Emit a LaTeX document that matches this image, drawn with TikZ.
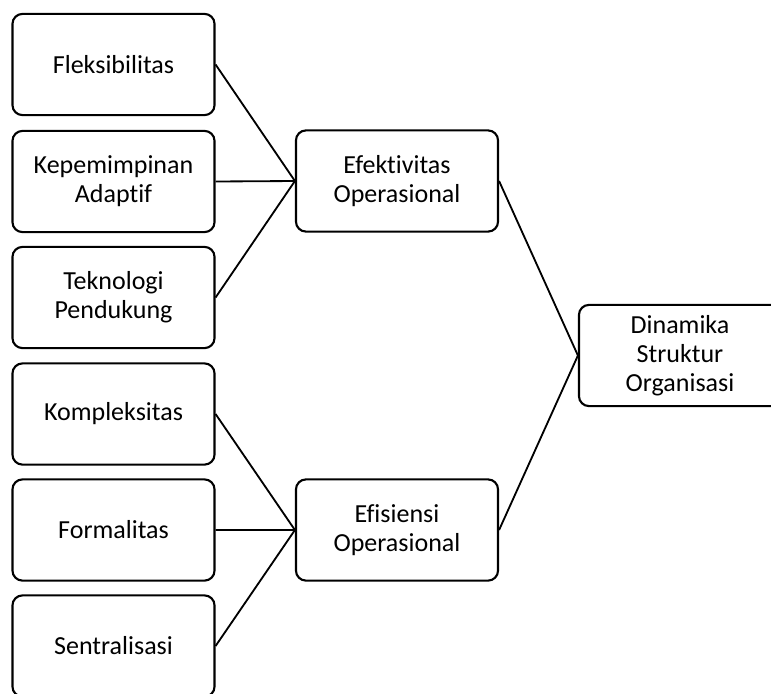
\documentclass[tikz,border=0pt]{standalone}
\usepackage{fontspec}
\setmainfont[Ligatures=NoCommon]{Carlito}
\usepackage{tikz}
\usetikzlibrary{positioning}

\begin{document}
\begin{tikzpicture}[x=0.025cm, y=-0.025cm,
        kotak/.style={draw, line width=1.5pt, rounded corners=0.25cm, align=center,
            minimum width=5.05cm, minimum height=2.53cm, inner sep=2pt, font=\fontsize{18.5}{20.5}\selectfont},
        garis/.style={line width=1.3pt}]
    \useasboundingbox (0, 0) rectangle (771, 693);
    % faktor di kiri
    \node[kotak] (fleks) at (113.5, 64.5) {Fleksibilitas};
    \node[kotak] (pimpin) at (113.5, 181.5) {Kepemimpinan\\Adaptif};
    \node[kotak] (tekno) at (113.5, 297.5) {Teknologi\\Pendukung};
    \node[kotak] (kompleks) at (113.5, 414) {Kompleksitas};
    \node[kotak] (formal) at (113.5, 530) {Formalitas};
    \node[kotak] (sentral) at (113.5, 646) {Sentralisasi};
    % tengah
    \node[kotak] (efektif) at (397, 181) {Efektivitas\\Operasional};
    \node[kotak] (efisien) at (397, 530) {Efisiensi\\Operasional};
    % kanan
    \node[kotak] (dinamika) at (680, 355.5) {Dinamika\\Struktur\\Organisasi};
    \draw[garis]
    (fleks.east) -- (efektif.west)
    (pimpin.east) -- (efektif.west)
    (tekno.east) -- (efektif.west)
    (kompleks.east) -- (efisien.west)
    (formal.east) -- (efisien.west)
    (sentral.east) -- (efisien.west)
    (efektif.east) -- (dinamika.west)
    (efisien.east) -- (dinamika.west);
\end{tikzpicture}
\end{document}
